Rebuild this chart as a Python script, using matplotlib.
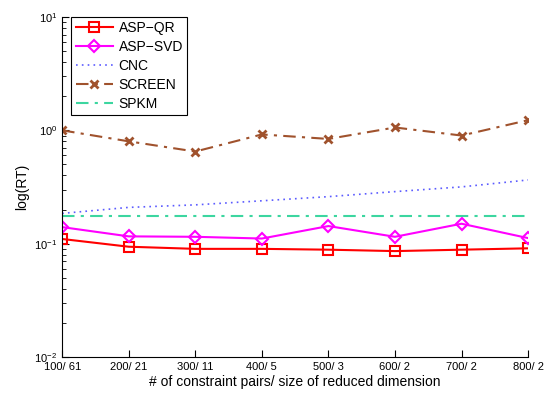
import matplotlib.pyplot as plt
from matplotlib.ticker import LogLocator, NullFormatter

plt.rcParams['font.family'] = ['Liberation Sans', 'DejaVu Sans']

x_labels = ['100/ 61', '200/ 21', '300/ 11', '400/ 5', '500/ 3', '600/ 2', '700/ 2', '800/ 2']
asp_qr = [0.110, 0.094, 0.090, 0.090, 0.0885, 0.086, 0.0885, 0.091]
asp_svd = [0.140, 0.116, 0.115, 0.111, 0.143, 0.115, 0.150, 0.112]
cnc = [0.185, 0.209, 0.220, 0.239, 0.260, 0.288, 0.317, 0.365]
screen = [1.00, 0.80, 0.65, 0.92, 0.84, 1.06, 0.90, 1.23]
spkm = [0.176] * 8

x = list(range(len(x_labels)))

fig = plt.figure(figsize=(5.45, 3.96), dpi=100)
ax = fig.add_axes([0.114, 0.0985, 0.855, 0.8585])

ax.plot(x, asp_qr, color='#ff0000', lw=1.5, marker='s', ms=6.5, mfc='none', mew=1.5, label='ASP\u2212QR')
ax.plot(x, asp_svd, color='#ff00ff', lw=1.5, marker='D', ms=6.5, mfc='none', mew=1.5, label='ASP\u2212SVD')
ax.plot(x, cnc, color='#5b5bff', lw=1.2, ls=(0, (1, 2.5)), label='CNC')
ax.plot(x, screen, color='#a0522d', lw=1.5, ls=(0, (6, 3, 1.5, 3)), marker='x', ms=6, mew=2, label='SCREEN')
ax.plot(x, spkm, color='#3cd6a0', lw=1.5, ls=(0, (6, 3, 1.5, 3)), label='SPKM')

ax.set_yscale('log')
ax.set_ylim(1e-2, 1e1)
ax.set_xlim(0, 7)
ax.set_xticks(x)
ax.set_xticklabels(x_labels, fontsize=8)
ax.yaxis.set_minor_locator(LogLocator(base=10, subs=range(2, 10)))
ax.yaxis.set_minor_formatter(NullFormatter())
ax.tick_params(direction='in', which='both', labelsize=8, top=False, right=False)
ax.tick_params(which='major', length=5)
ax.tick_params(which='minor', length=3)
for s in ['top', 'right']:
    ax.spines[s].set_visible(False)

ax.set_xlabel('# of constraint pairs/ size of reduced dimension', fontsize=10, labelpad=2)
ax.set_ylabel('log(RT)', fontsize=10)

leg = ax.legend(loc='upper left', fontsize=10, fancybox=False, framealpha=1,
                edgecolor='black', handlelength=2.7, borderpad=0.3, labelspacing=0.35,
                handletextpad=0.4, bbox_to_anchor=(0.005, 1.02))
leg.get_frame().set_linewidth(0.8)

fig.savefig('out.png', dpi=100)
